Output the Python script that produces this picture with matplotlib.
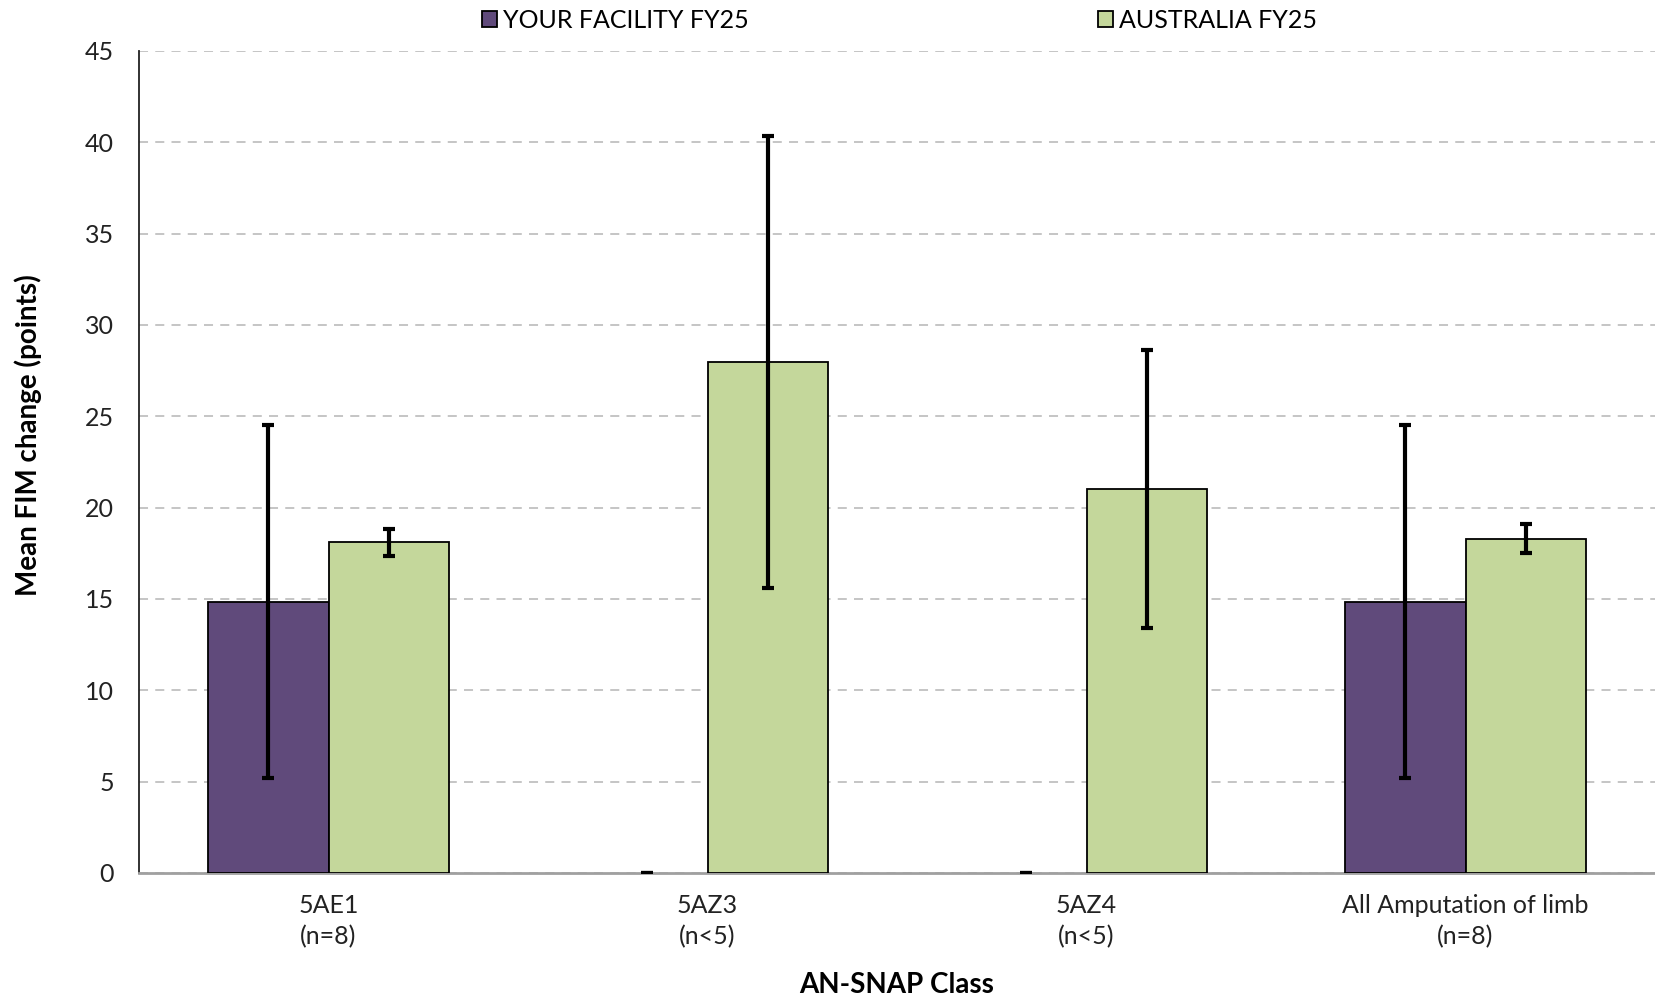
import matplotlib
matplotlib.use("Agg")
import matplotlib.pyplot as plt
import numpy as np

categories = ["5AE1\n(n=8)", "5AZ3\n(n<5)", "5AZ4\n(n<5)", "All Amputation of limb\n(n=8)"]
facility = [14.85, 0.0, 0.0, 14.85]
facility_err = [9.65, 0.0, 0.0, 9.65]
australia = [18.1, 27.97, 21.03, 18.3]
australia_err = [0.72, 12.37, 7.6, 0.8]
series_names = ["YOUR FACILITY FY25", "AUSTRALIA FY25"]
y_ticks = [0, 5, 10, 15, 20, 25, 30, 35, 40, 45]

plt.rcParams['font.family'] = ['Lato', 'DejaVu Sans']

fig = plt.figure(figsize=(16.55, 9.96), dpi=100)
ax = fig.add_axes([0.084, 0.1235, 0.916, 0.8253])

x = np.arange(len(categories))
w = 0.318
err_kw = dict(ecolor='black', elinewidth=3, capsize=4.5, capthick=3)
lw1 = [1.3 if v != 0 else 0 for v in facility]
lw2 = [1.3 if v != 0 else 0 for v in australia]
b1 = ax.bar(x - w/2, facility, w, color='#604A7B', edgecolor='black', linewidth=lw1,
            yerr=facility_err, error_kw=err_kw, label=series_names[0], zorder=3)
b2 = ax.bar(x + w/2, australia, w, color='#C4D79B', edgecolor='black', linewidth=lw2,
            yerr=australia_err, error_kw=err_kw, label=series_names[1], zorder=3)

ax.set_xlim(-0.5, 3.5)
ax.set_ylim(0, 45)
ax.set_yticks(y_ticks)
ax.set_xticks(x)
ax.set_xticklabels(categories, fontsize=18, color='#222222', linespacing=1.4)
ax.tick_params(axis='y', labelsize=18, length=0, pad=18, colors='#222222')
ax.tick_params(axis='x', length=0, pad=15)
ax.yaxis.grid(True, linestyle=(0, (5, 4)), color='#c0c0c0', linewidth=1.3, zorder=0)
ax.set_axisbelow(True)
for s in ['top', 'right']:
    ax.spines[s].set_visible(False)
ax.spines['left'].set_color('#222222')
ax.spines['left'].set_linewidth(1.3)
ax.spines['bottom'].set_color('#a0a0a0')
ax.spines['bottom'].set_linewidth(2)

ax.set_ylabel("Mean FIM change (points)", fontsize=20, fontweight='bold')
ax.yaxis.set_label_coords(-0.064, 0.533)
ax.set_xlabel("AN-SNAP Class", fontsize=20, fontweight='bold')
ax.xaxis.set_label_coords(0.5, -0.121)

common = dict(loc='upper left', frameon=False, fontsize=18, handlelength=0.6,
              handleheight=0.6, handletextpad=0.25, borderpad=0, borderaxespad=0)
l1 = fig.legend(handles=[b1], labels=[series_names[0]], bbox_to_anchor=(0.291, 0.991), **common)
l2 = fig.legend(handles=[b2], labels=[series_names[1]], bbox_to_anchor=(0.6635, 0.991), **common)

fig.savefig("out.png", dpi=100)
